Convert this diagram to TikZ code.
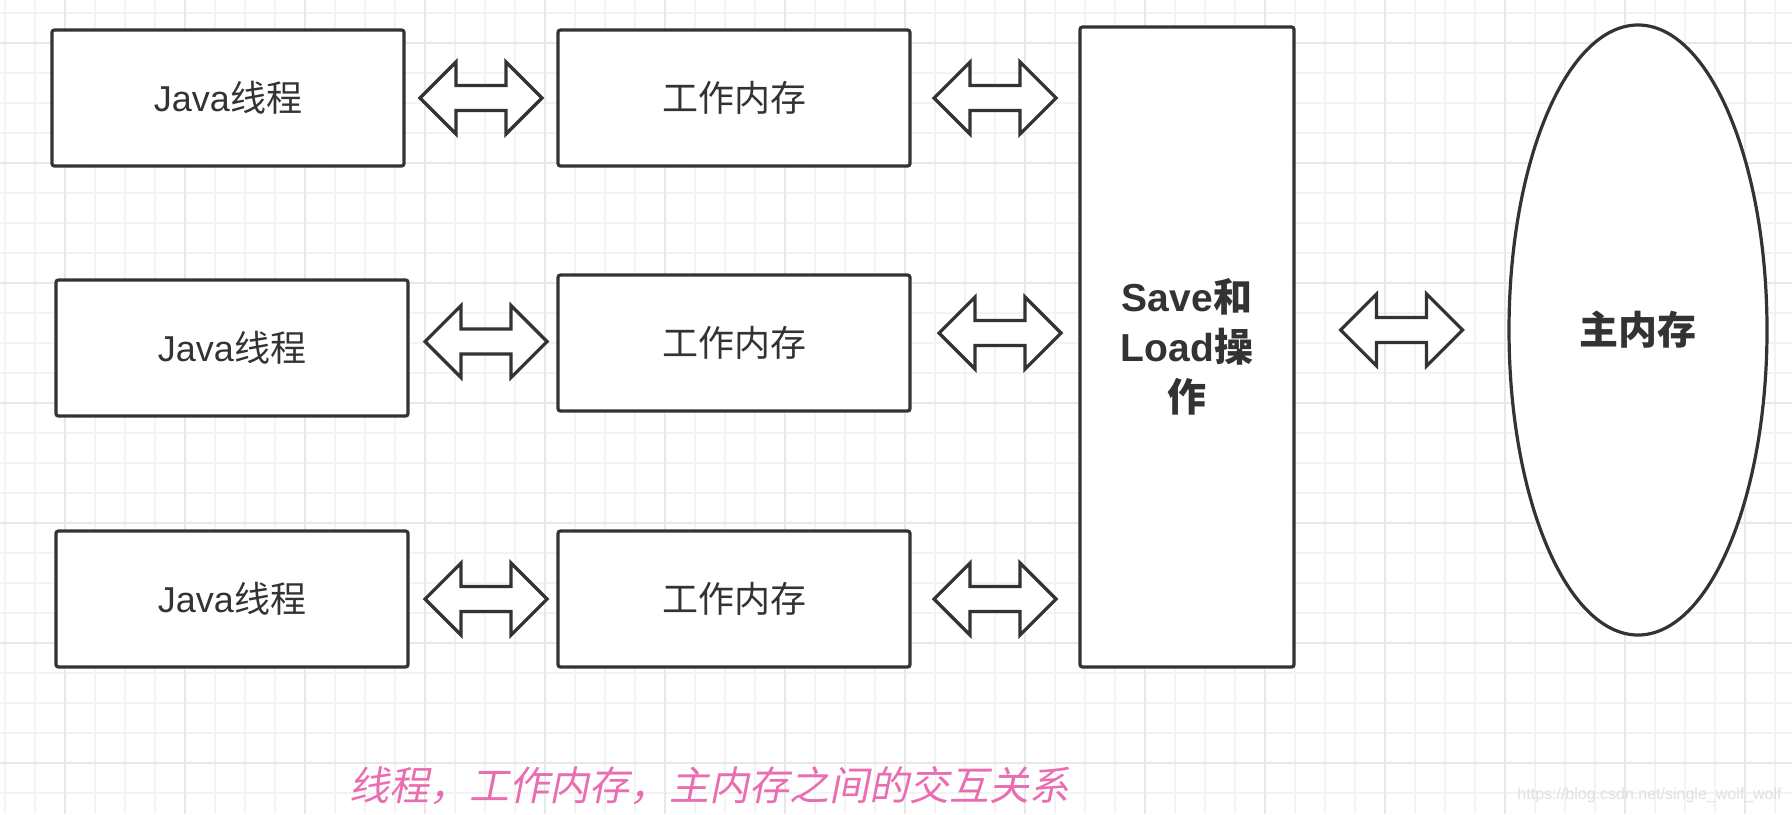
\documentclass[tikz,border=0pt]{standalone}
\usepackage{fontspec}
\setmainfont{Liberation Sans}
\newfontfamily\cjk{Noto Sans CJK SC}
\newfontfamily\cjkit[FakeSlant=0.2]{Noto Sans CJK SC}
\usetikzlibrary{shapes.geometric,calc}
\definecolor{ink}{HTML}{333333}
\definecolor{gridminor}{HTML}{F3F3F3}
\definecolor{gridmajor}{HTML}{E8E8E8}
\definecolor{capink}{HTML}{EA6CB1}
\definecolor{wmark}{HTML}{E0E0E0}
\begin{document}
\begin{tikzpicture}[x=0.5pt,y=-0.5pt,
  minorline/.style={draw=gridminor,line width=1pt},
  majorline/.style={draw=gridmajor,line width=1pt},
  box/.style={draw=ink,line width=1.6pt,fill=white,rounded corners=1.2pt,
    minimum width=176pt,minimum height=68pt,inner sep=0pt,text=ink,
    font=\fontsize{18pt}{21pt}\selectfont},
  opbox/.style={draw=ink,line width=1.6pt,fill=white,rounded corners=1.2pt,
    minimum width=107pt,minimum height=320pt,inner sep=0pt,text=ink,align=center,
    font=\fontsize{19.5pt}{25pt}\selectfont\bfseries},
  memoval/.style={ellipse,draw=ink,line width=1.6pt,fill=white,
    minimum width=129pt,minimum height=305pt,inner sep=0pt,text=ink,
    font=\fontsize{19.5pt}{23pt}\selectfont\bfseries},
  blockarrow/.style={draw=ink,line width=1.6pt,fill=white,line join=miter},
  dblarr/.pic={\path[blockarrow] (-61,0) -- (-25,-36) -- (-25,-12.5) -- (25,-12.5)
    -- (25,-36) -- (61,0) -- (25,36) -- (25,12.5) -- (-25,12.5) -- (-25,36) -- cycle;},
  caption/.style={text=capink,inner sep=0pt,font=\cjkit\fontsize{20pt}{24pt}\selectfont},
  watermark/.style={text=wmark,inner sep=0pt,font=\fontsize{8pt}{10pt}\selectfont}
]
% background and bounding box
\fill[white] (0,0) rectangle (1792,814);
\useasboundingbox (0,0) rectangle (1792,814);
% grid
\foreach \i in {0,...,59} \draw[minorline] (5+30*\i,0) -- (5+30*\i,814);
\foreach \j in {0,...,26} \draw[minorline] (0,12.7+30*\j) -- (1792,12.7+30*\j);
\foreach \i in {2,6,...,58} \draw[majorline] (5+30*\i,0) -- (5+30*\i,814);
\foreach \j in {1,5,...,25} \draw[majorline] (0,12.7+30*\j) -- (1792,12.7+30*\j);

% boxes
\node[box] (j1) at (228,98) {Java{\cjk 线程}};
\node[box] (j2) at (232,348) {Java{\cjk 线程}};
\node[box] (j3) at (232,599) {Java{\cjk 线程}};
\node[box] (w1) at (734,98) {\cjk 工作内存};
\node[box] (w2) at (734,343) {\cjk 工作内存};
\node[box] (w3) at (734,599) {\cjk 工作内存};
\node[opbox] (op) at (1187,347) {Save{\cjk\bfseries 和}\\Load{\cjk\bfseries 操}\\{\cjk\bfseries 作}};
\node[memoval] (mm) at (1638,330) {\cjk\bfseries 主内存};

% double arrows
\pic at ($(j1.east)!0.5!(w1.west)$) {dblarr};
\pic at ($(j2.east)!0.5!(w2.west)+(3,-4)$) {dblarr};
\pic at ($(j3.east)!0.5!(w3.west)+(3,0)$) {dblarr};
\pic at ($(w1.east)!0.5!(op.west|-w1.east)$) {dblarr};
\pic at ($(w2.east)!0.5!(op.west|-w2.east)+(5,-10)$) {dblarr};
\pic at ($(w3.east)!0.5!(op.west|-w3.east)$) {dblarr};
\pic at ($(op.east|-mm.west)!0.5!(mm.west)$) {dblarr};

% caption and watermark
\node[caption] (cap) at (709,786) {线程，工作内存，主内存之间的交互关系};
\node[watermark,anchor=east] (wm) at (1782,795) {https://blog.csdn.net/single\_wolf\_wolf};
\end{tikzpicture}
\end{document}
